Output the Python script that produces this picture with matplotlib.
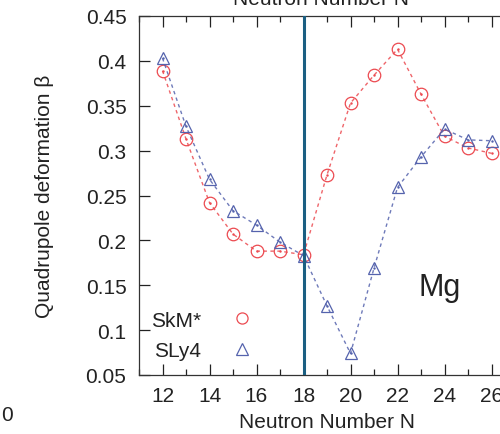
import matplotlib
matplotlib.use("Agg")
import matplotlib.pyplot as plt
from matplotlib.lines import Line2D
from matplotlib.ticker import MultipleLocator

plt.rcParams['font.family'] = ['Liberation Sans', 'DejaVu Sans']

N = [12, 13, 14, 15, 16, 17, 18, 19, 20, 21, 22, 23, 24, 25, 26]
skm = [0.389, 0.313, 0.242, 0.207, 0.188, 0.188, 0.184, 0.273, 0.353, 0.384,
       0.413, 0.363, 0.316, 0.303, 0.297]
sly4 = [0.403, 0.327, 0.268, 0.233, 0.217, 0.198, 0.183, 0.127, 0.074, 0.169,
        0.259, 0.293, 0.324, 0.312, 0.311]
xticks = [12, 14, 16, 18, 20, 22, 24, 26]
yticks = [0.05, 0.1, 0.15, 0.2, 0.25, 0.3, 0.35, 0.4, 0.45]
ytick_labels = ['0.05', '0.1', '0.15', '0.2', '0.25', '0.3', '0.35', '0.4', '0.45']

red = '#ec4a50'
blue = '#5563ad'
vline_color = '#1b5f82'
txt = '#222222'
fs = 15

fig = plt.figure(figsize=(5.0, 4.35), dpi=100)
ax = fig.add_axes([139/500, 1-376/435, (515-139)/500, (376-17)/435])

ax.plot(N, skm, linestyle=(0, (2.5, 2.5)), color=red, lw=1.0, alpha=0.85)
ax.plot(N, skm, linestyle='none', marker='o', ms=9, mfc='none', mec=red, mew=0.9)
ax.plot(N, skm, linestyle='none', marker='.', ms=1.5, color=red)
ax.plot(N, sly4, linestyle=(0, (2.5, 2.5)), color=blue, lw=1.0, alpha=0.85)
ax.plot(N, sly4, linestyle='none', marker='^', ms=8.5, mfc='none', mec=blue, mew=0.9)
ax.plot(N, sly4, linestyle='none', marker='.', ms=1.5, color=blue)

ax.axvline(18, color=vline_color, lw=2.2, zorder=5)

ax.set_xlim(11, 27)
ax.set_ylim(0.05, 0.45)
ax.set_xticks(xticks)
ax.set_xticklabels([str(t) for t in xticks])
ax.xaxis.set_minor_locator(MultipleLocator(1))
ax.set_yticks(yticks)
ax.set_yticklabels(ytick_labels)
ax.tick_params(axis='x', which='both', direction='in', top=True, bottom=True,
               labelsize=fs, pad=8, colors=txt)
ax.tick_params(axis='x', which='major', length=8, width=0.9)
ax.tick_params(axis='x', which='minor', length=4, width=0.9)
ax.tick_params(axis='y', which='major', direction='in', length=8, width=0.9,
               labelsize=fs, pad=9, colors=txt)
for s in ax.spines.values():
    s.set_linewidth(0.9)
    s.set_color('#333333')

ax.set_xlabel('Neutron Number N', fontsize=fs, color=txt, labelpad=5)
ax.set_ylabel('Quadrupole deformation β', fontsize=fs, color=txt, labelpad=23)

ax.text(0.80, 0.245, 'Mg', transform=ax.transAxes, fontsize=22,
        ha='center', va='center', color=txt)

handles = [
    Line2D([], [], linestyle='none', marker='o', ms=8, mfc='none', mec=red, mew=0.9),
    Line2D([], [], linestyle='none', marker='^', ms=8, mfc='none', mec=blue, mew=0.9),
]
leg = ax.legend(handles, ['SkM*', 'SLy4'], loc='lower left', markerfirst=False,
                frameon=False, fontsize=fs, handlelength=1.0, handletextpad=1.45,
                labelspacing=0.55, borderaxespad=0.0, bbox_to_anchor=(0.01, 0.018))
for t in leg.get_texts():
    t.set_color(txt)

fig.text(321/500, 1-5/435, 'Neutron Number N', fontsize=fs, ha='center',
         va='baseline', color=txt)
fig.text(7/500, 1-421/435, '0', fontsize=fs, ha='center', va='baseline',
         color=txt)

fig.savefig('out.png', dpi=100)
